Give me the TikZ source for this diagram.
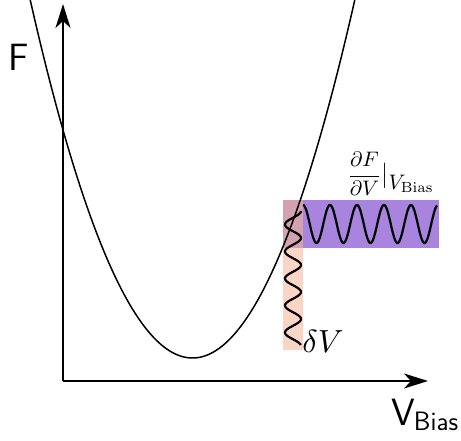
\RequirePackage{fix-cm}
\documentclass[tikz,border=0pt]{standalone}
\usepackage{graphicx}
\usetikzlibrary{arrows.meta}
\definecolor{wavepurple}{RGB}{168,132,222}
\definecolor{wavepink}{RGB}{250,213,197}
\definecolor{overlap}{RGB}{212,161,178}
\tikzset{
  axis/.style={line width=2.6pt,-{Stealth[length=24pt,width=15pt,inset=7pt]}},
  curve/.style={line width=1.5pt},
  wave/.style={line width=2.2pt,smooth,samples=160},
  lbl/.style={inner sep=0pt},
}
\begin{document}
\begin{tikzpicture}[x=1pt,y=-1pt]
\useasboundingbox (0,0) rectangle (461,441);
% coloured bands
\fill[wavepink] (283,200) rectangle (303,350);
\fill[wavepurple] (303,200) rectangle (439,248);
\fill[overlap] (283,200) rectangle (303,248);
% axes
\coordinate (O) at (63,381);
\coordinate (ytip) at (63,4);
\coordinate (xtip) at (428,381);
\draw[axis] (O) -- (ytip);
\draw[axis] (O) -- (xtip);
% parabola
\draw[curve] plot[domain=30:355,samples=120,smooth] (\x,{358-0.0136*(\x-192.5)*(\x-192.5)});
% waves
\draw[wave] plot[domain=0:134] ({303+\x},{224-19*cos(\x/27*360)});
\draw[wave] plot[domain=0:134] ({293+8*cos(\x/27*360)},{211+\x});
% labels
\node[lbl,font=\sffamily\fontsize{38}{42}\selectfont] (F) at (19,57) {F};
\node[lbl,font=\sffamily\fontsize{38}{42}\selectfont,anchor=base west] (VB) at (391,425) {V\textsubscript{\kern-1pt Bias}};
\node[lbl] (dF) at (391,174) {\scalebox{2.1}{$\displaystyle\frac{\partial F}{\partial V}\bigr|_{\textstyle V_{\mathrm{Bias}}}$}};
\node[lbl] (dV) at (323,341) {\scalebox{3.2}{$\delta V$}};
\end{tikzpicture}
\end{document}
